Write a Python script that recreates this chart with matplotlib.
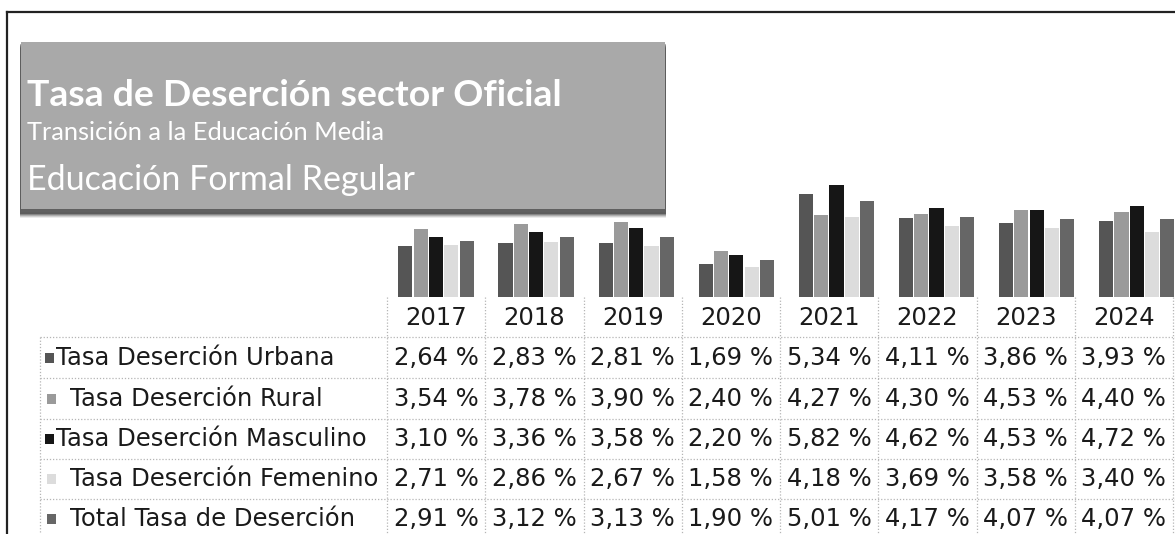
import matplotlib
matplotlib.use("Agg")
import matplotlib.pyplot as plt
from matplotlib.patches import Rectangle
import numpy as np

# ---------------- data ----------------
years = ["2017", "2018", "2019", "2020", "2021", "2022", "2023", "2024"]
series_names = ["Tasa Deserción Urbana", "Tasa Deserción Rural",
                "Tasa Deserción Masculino", "Tasa Deserción Femenino",
                "Total Tasa de Deserción"]
urbana = [2.64, 2.83, 2.81, 1.69, 5.34, 4.11, 3.86, 3.93]
rural = [3.54, 3.78, 3.90, 2.40, 4.27, 4.30, 4.53, 4.40]
masculino = [3.10, 3.36, 3.58, 2.20, 5.82, 4.62, 4.53, 4.72]
femenino = [2.71, 2.86, 2.67, 1.58, 4.18, 3.69, 3.58, 3.40]
total = [2.91, 3.12, 3.13, 1.90, 5.01, 4.17, 4.07, 4.07]
title_lines = ["Tasa de Deserción sector Oficial",
               "Transición a la Educación Media",
               "Educación Formal Regular"]

series_values = [urbana, rural, masculino, femenino, total]
colors = ["#555555", "#9a9a9a", "#161616", "#dcdcdc", "#666666"]

# ---------------- layout ----------------
W, H = 1175, 534
fig = plt.figure(figsize=(W / 100, H / 100), dpi=100)
fig.patch.set_facecolor("white")


def fx(x):
    return x / W


def fy(y):
    return 1 - y / H


renderer = fig.canvas.get_renderer()


def fit_width(t, target):
    bb = t.get_window_extent(renderer=renderer)
    t.set_fontsize(t.get_fontsize() * target / bb.width)


# frame lines
fig.add_artist(plt.Line2D([fx(7), fx(W)], [fy(12), fy(12)], color="#222222", lw=1.6))
fig.add_artist(plt.Line2D([fx(7), fx(7)], [fy(12), fy(H)], color="#222222", lw=1.6))

# title box with soft shadow
bx0, by0, bx1, by1 = 21, 42, 665, 212
for d, a in [(6, 0.08), (5, 0.12), (4, 0.16), (3, 0.22), (2, 0.3)]:
    fig.add_artist(Rectangle((fx(bx0 - 1), fy(by1 + d)), fx(bx1 - bx0 + 2), (by1 - by0) / H,
                             facecolor="black", alpha=a, edgecolor="none"))
fig.add_artist(Rectangle((fx(bx0), fy(by1)), fx(bx1 - bx0), (by1 - by0) / H,
                         facecolor="#a9a9a9", edgecolor="none"))
fig.add_artist(Rectangle((fx(bx0), fy(by1)), fx(bx1 - bx0), 3 / H,
                         facecolor="#606060", edgecolor="none"))

title_specs = [(title_lines[0], 95, 535, "bold"),
               (title_lines[1], 133, 358, "normal"),
               (title_lines[2], 180, 388, "normal")]
for txt, yc, wdt, wt in title_specs:
    t = fig.text(fx(27), fy(yc), txt, color="white", fontsize=20, fontweight=wt,
                 family=["Lato", "DejaVu Sans"], ha="left", va="center")
    fit_width(t, wdt)

# table columns
col0, colw, ncol = 387, 98.25, len(years)

# bar axes (bar groups spaced slightly wider than table columns, as in the scan)
grp0, grpw = 436, 100.1
base_y, px_per_unit = 297, 19.25
top_y = 165
ax = fig.add_axes([fx(grp0 - grpw / 2), fy(base_y), fx(grpw * ncol), (base_y - top_y) / H])
ax.set_xlim(0, ncol)
ax.set_ylim(0, (base_y - top_y) / px_per_unit)
ax.axis("off")
pitch = 15.3 / grpw
bw = 14.2 / grpw
xc = np.arange(ncol) + 0.5
for k, (vals, c) in enumerate(zip(series_values, colors)):
    ax.bar(xc + (k - 2) * pitch, vals, width=bw, color=c, edgecolor="none", clip_on=False)

# table grid
grid_kw = dict(color="#b5b5b5", lw=0.9, ls=(0, (1, 1.5)))
row_lines = [337, 378, 419, 459, 499]
for y in row_lines:
    fig.add_artist(plt.Line2D([fx(40), fx(W)], [fy(y), fy(y)], **grid_kw))
for i in range(ncol + 1):
    x = col0 + colw * i
    fig.add_artist(plt.Line2D([fx(x), fx(x)], [fy(base_y), fy(H)], **grid_kw))
fig.add_artist(plt.Line2D([fx(40), fx(40)], [fy(337), fy(H)], **grid_kw))

fs = 17.5
tfam = ["DejaVu Sans"]
for i, yr in enumerate(years):
    fig.text(fx(col0 + colw * (i + 0.5)), fy(318), yr, fontsize=fs, family=tfam,
             ha="center", va="center", color="#1a1a1a")

row_centers = [358, 399, 439, 479, 519]
marker_x = [45, 47, 45, 47, 47]
text_x = [56, 70, 56, 70, 70]
for r, (name, vals, c) in enumerate(zip(series_names, series_values, colors)):
    yc = row_centers[r]
    fig.add_artist(Rectangle((fx(marker_x[r]), fy(yc + 5)), 9 / W, 10 / H,
                             facecolor=c, edgecolor="none"))
    fig.text(fx(text_x[r]), fy(yc), name, fontsize=fs, family=tfam,
             ha="left", va="center", color="#1a1a1a")
    for i, v in enumerate(vals):
        s = f"{v:.2f} %".replace(".", ",")
        fig.text(fx(col0 + colw * (i + 0.5)), fy(yc), s, fontsize=fs, family=tfam,
                 ha="center", va="center", color="#1a1a1a")

fig.savefig("out.png", dpi=100, facecolor="white")
